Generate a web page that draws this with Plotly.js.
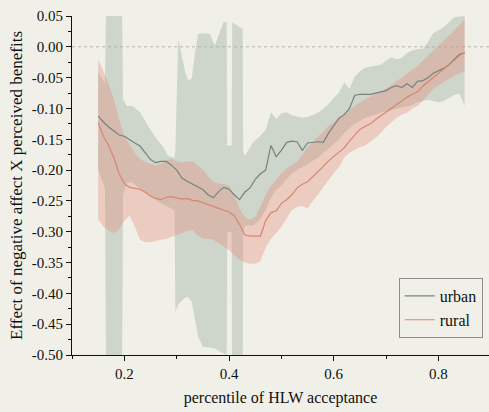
<!DOCTYPE html>
<html>
<head>
<meta charset="utf-8">
<script src="https://cdn.plot.ly/plotly-3.0.1.min.js"></script>
<style>
  html, body { margin: 0; padding: 0; background: #f1f0e8; }
  #chart { width: 489px; height: 412px; }
</style>
</head>
<body>
<div id="chart"></div>
<script>
// percentile grid for the mean lines and the rural band
const pct = [0.15,0.16,0.17,0.18,0.19,0.20,0.21,0.22,0.23,0.24,
  0.25,0.26,0.27,0.28,0.29,0.30,0.31,0.32,0.33,0.34,
  0.35,0.36,0.37,0.38,0.39,0.40,0.41,0.42,0.43,0.44,
  0.45,0.46,0.47,0.48,0.49,0.50,0.51,0.52,0.53,0.54,
  0.55,0.56,0.57,0.58,0.59,0.60,0.61,0.62,0.63,0.64,
  0.65,0.66,0.67,0.68,0.69,0.70,0.71,0.72,0.73,0.74,
  0.75,0.76,0.77,0.78,0.79,0.80,0.81,0.82,0.83,0.84,0.85];

const urbanEffect = [-0.112,-0.122,-0.130,-0.137,-0.143,-0.145,-0.151,-0.156,-0.161,-0.172,
  -0.183,-0.188,-0.186,-0.186,-0.192,-0.200,-0.213,-0.218,-0.222,-0.227,
  -0.232,-0.240,-0.245,-0.235,-0.228,-0.231,-0.240,-0.248,-0.236,-0.229,
  -0.215,-0.206,-0.200,-0.160,-0.178,-0.168,-0.155,-0.153,-0.154,-0.168,
  -0.156,-0.155,-0.154,-0.155,-0.140,-0.128,-0.116,-0.110,-0.100,-0.079,
  -0.077,-0.077,-0.077,-0.075,-0.073,-0.071,-0.066,-0.063,-0.066,-0.060,
  -0.066,-0.056,-0.055,-0.050,-0.043,-0.039,-0.035,-0.029,-0.020,-0.012,-0.010];

const ruralEffect = [-0.123,-0.145,-0.160,-0.180,-0.206,-0.222,-0.228,-0.230,-0.231,-0.236,
  -0.242,-0.246,-0.248,-0.244,-0.243,-0.245,-0.247,-0.246,-0.249,-0.250,
  -0.253,-0.256,-0.260,-0.263,-0.266,-0.268,-0.274,-0.288,-0.305,-0.307,
  -0.307,-0.307,-0.282,-0.269,-0.266,-0.254,-0.248,-0.240,-0.229,-0.223,
  -0.219,-0.211,-0.202,-0.194,-0.185,-0.178,-0.172,-0.164,-0.153,-0.143,
  -0.134,-0.129,-0.125,-0.118,-0.112,-0.105,-0.099,-0.093,-0.088,-0.082,
  -0.077,-0.073,-0.064,-0.057,-0.050,-0.044,-0.037,-0.030,-0.022,-0.014,-0.009];

const ruralUpper = [-0.020,-0.040,-0.060,-0.085,-0.118,-0.146,-0.160,-0.172,-0.182,-0.187,
  -0.190,-0.193,-0.190,-0.184,-0.182,-0.186,-0.188,-0.186,-0.186,-0.192,
  -0.199,-0.210,-0.219,-0.222,-0.223,-0.226,-0.240,-0.262,-0.277,-0.280,
  -0.276,-0.260,-0.240,-0.226,-0.215,-0.205,-0.198,-0.192,-0.186,-0.175,
  -0.163,-0.155,-0.145,-0.138,-0.128,-0.122,-0.114,-0.108,-0.102,-0.095,
  -0.090,-0.085,-0.080,-0.076,-0.073,-0.068,-0.062,-0.056,-0.050,-0.043,
  -0.037,-0.031,-0.022,-0.014,-0.006,0.002,0.010,0.017,0.026,0.035,0.045];

const ruralLower = [-0.280,-0.292,-0.298,-0.302,-0.296,-0.282,-0.274,-0.292,-0.313,-0.317,
  -0.317,-0.315,-0.313,-0.312,-0.309,-0.305,-0.302,-0.299,-0.297,-0.306,
  -0.311,-0.312,-0.313,-0.318,-0.324,-0.330,-0.338,-0.345,-0.350,-0.352,
  -0.352,-0.348,-0.325,-0.312,-0.302,-0.292,-0.278,-0.265,-0.260,-0.258,
  -0.262,-0.250,-0.240,-0.228,-0.216,-0.205,-0.195,-0.180,-0.172,-0.168,
  -0.163,-0.160,-0.154,-0.148,-0.140,-0.130,-0.122,-0.115,-0.110,-0.107,
  -0.100,-0.096,-0.088,-0.078,-0.068,-0.063,-0.057,-0.052,-0.047,-0.043,-0.040];

// urban confidence band (own, finer percentile positions)
const urbanBandPct = [0.150,0.163,0.1655,0.195,0.1975,0.205,0.215,0.230,0.245,0.262,
  0.274,0.284,0.296,0.2975,0.303,0.310,0.316,0.322,0.3287,0.335,
  0.341,0.350,0.363,0.373,0.380,0.389,0.3955,0.3965,0.405,0.406,
  0.426,0.427,0.430,0.446,0.459,0.47,0.48,0.49,0.50,0.51,
  0.52,0.53,0.54,0.55,0.56,0.57,0.58,0.59,0.60,0.61,
  0.62,0.63,0.64,0.65,0.66,0.67,0.68,0.69,0.70,0.71,
  0.72,0.73,0.74,0.75,0.76,0.77,0.78,0.79,0.80,0.81,
  0.82,0.83,0.84,0.85];
const urbanUpper = [-0.040,-0.060,0.100,0.100,-0.085,-0.096,-0.096,-0.106,-0.128,-0.150,
  -0.162,-0.177,-0.180,-0.166,0.013,-0.018,-0.040,-0.055,-0.052,-0.010,
  0.021,0.022,0.021,0.002,0.020,0.040,0.040,-0.160,-0.160,0.040,
  0.029,-0.170,-0.177,-0.155,-0.145,-0.135,-0.106,-0.117,-0.108,-0.106,
  -0.111,-0.113,-0.115,-0.114,-0.110,-0.107,-0.100,-0.093,-0.083,-0.074,
  -0.058,-0.068,-0.048,-0.040,-0.034,-0.032,-0.031,-0.029,-0.022,-0.017,
  -0.020,-0.018,-0.010,-0.006,-0.004,-0.003,0.008,0.022,0.027,0.032,
  0.040,0.048,0.049,0.050];
const urbanLower = [-0.200,-0.230,-0.600,-0.600,-0.240,-0.220,-0.220,-0.230,-0.240,-0.250,
  -0.255,-0.260,-0.265,-0.430,-0.418,-0.412,-0.407,-0.406,-0.414,-0.440,
  -0.470,-0.487,-0.488,-0.490,-0.493,-0.497,-0.500,-0.300,-0.300,-0.600,
  -0.600,-0.300,-0.290,-0.290,-0.280,-0.265,-0.245,-0.232,-0.225,-0.215,
  -0.205,-0.200,-0.195,-0.190,-0.185,-0.180,-0.172,-0.165,-0.158,-0.150,
  -0.140,-0.132,-0.125,-0.120,-0.115,-0.112,-0.110,-0.107,-0.105,-0.103,
  -0.100,-0.098,-0.096,-0.094,-0.090,-0.088,-0.086,-0.088,-0.090,-0.088,
  -0.083,-0.078,-0.076,-0.096];

const yTickVals = [0.05,0.00,-0.05,-0.10,-0.15,-0.20,-0.25,-0.30,-0.35,-0.40,-0.45,-0.50];
const yTickText = ['0.05','0.00','-0.05','-0.10','-0.15','-0.20','-0.25','-0.30','-0.35','-0.40','-0.45','-0.50'];

function bandPolygon(xs, up, lo) {
  return {
    x: xs.concat(xs.slice().reverse()),
    y: up.concat(lo.slice().reverse())
  };
}

const uPoly = bandPolygon(urbanBandPct, urbanUpper, urbanLower);
const rPoly = bandPolygon(pct, ruralUpper, ruralLower);

const FONT = 'Liberation Serif, Times New Roman, serif';
const INK = '#101010';
const X_RANGE = [0.1, 0.8966];
const Y_RANGE = [-0.5, 0.05];

const traces = [
  { x: uPoly.x, y: uPoly.y, type: 'scatter', mode: 'lines', fill: 'toself',
    fillcolor: 'rgba(165,182,168,0.47)', line: { width: 0 }, hoverinfo: 'skip', showlegend: false },
  { x: rPoly.x, y: rPoly.y, type: 'scatter', mode: 'lines', fill: 'toself',
    fillcolor: 'rgba(226,138,122,0.36)', line: { width: 0 }, hoverinfo: 'skip', showlegend: false },
  { x: pct, y: urbanEffect, type: 'scatter', mode: 'lines', name: 'urban',
    line: { color: '#75857b', width: 1.2 } },
  { x: pct, y: ruralEffect, type: 'scatter', mode: 'lines', name: 'rural',
    line: { color: '#d8866f', width: 1.2 } },
  // invisible carrier so the minor-tick y axis (y2) gets drawn
  { x: pct, y: ruralEffect, yaxis: 'y2', type: 'scatter', mode: 'lines',
    line: { width: 0, color: 'rgba(0,0,0,0)' }, opacity: 0, hoverinfo: 'skip', showlegend: false }
];

const layout = {
  width: 489, height: 412,
  margin: { l: 72, r: 0, t: 16, b: 57 },
  paper_bgcolor: '#f1f0e8',
  plot_bgcolor: '#f1f0e8',
  font: { family: FONT, size: 15, color: INK },
  showlegend: true,
  legend: {
    x: 0.985, xanchor: 'right', y: 0.05, yanchor: 'bottom',
    bordercolor: '#8c8c8c', borderwidth: 1, bgcolor: 'rgba(0,0,0,0)',
    font: { family: FONT, size: 16, color: INK }, tracegroupgap: 0
  },
  xaxis: {
    range: X_RANGE,
    tickmode: 'linear', tick0: 0, dtick: 0.2, tickformat: '.1f',
    ticks: 'outside', ticklen: 5, tickwidth: 1, tickcolor: INK,
    minor: { tickmode: 'linear', tick0: 0, dtick: 0.1, ticks: 'outside', ticklen: 3, tickwidth: 1, tickcolor: INK, showgrid: false },
    showline: true, linecolor: INK, linewidth: 1,
    showgrid: false, zeroline: false,
    tickfont: { family: FONT, size: 15, color: INK },
    title: { text: 'percentile of HLW acceptance', font: { family: FONT, size: 16, color: INK }, standoff: 10 }
  },
  yaxis: {
    range: Y_RANGE,
    tickmode: 'array', tickvals: yTickVals, ticktext: yTickText,
    ticks: 'outside', ticklen: 5, tickwidth: 1, tickcolor: INK,
    showline: true, linecolor: INK, linewidth: 1,
    showgrid: false, zeroline: false,
    tickfont: { family: FONT, size: 15, color: INK },
    title: { text: 'Effect of negative affect X perceived benefits', font: { family: FONT, size: 17, color: INK }, standoff: 4 }
  },
  yaxis2: {
    overlaying: 'y', side: 'left', anchor: 'x',
    range: Y_RANGE,
    tickmode: 'linear', tick0: 0.025, dtick: 0.05,
    ticks: 'outside', ticklen: 3, tickwidth: 1, tickcolor: INK,
    showticklabels: false, showline: false, showgrid: false, zeroline: false
  },
  shapes: [
    { type: 'line', xref: 'paper', x0: 0, x1: 1, yref: 'y', y0: 0, y1: 0,
      line: { color: '#b5b5ad', width: 1, dash: 'dot' }, layer: 'below' }
  ]
};

Plotly.newPlot('chart', traces, layout, { displayModeBar: false, staticPlot: true });
</script>
</body>
</html>
